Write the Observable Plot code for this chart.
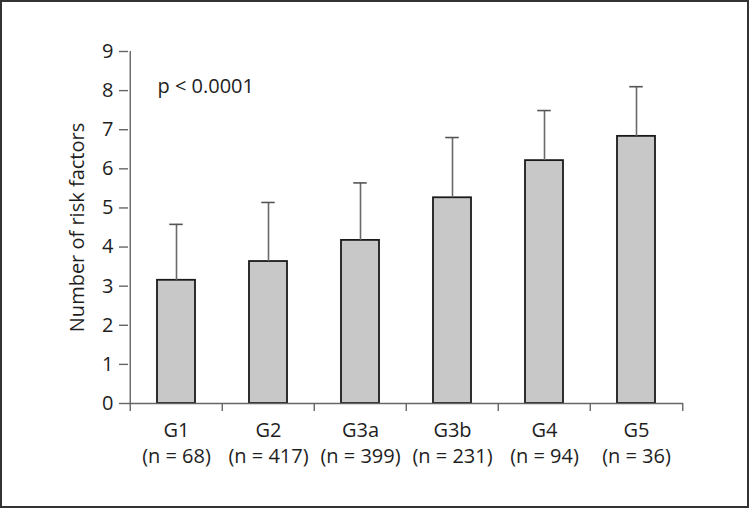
<!DOCTYPE html>
<html>
<head>
<meta charset="utf-8">
<script src="https://cdn.jsdelivr.net/npm/d3@7"></script>
<script src="https://cdn.jsdelivr.net/npm/@observablehq/plot@0.6"></script>
<style>
  html, body { margin: 0; padding: 0; background: #fff; }
  #wrap { position: relative; width: 750px; height: 508px; }
  #border { position: absolute; left: 0; top: 0; width: 749px; height: 508px; box-sizing: border-box; border: 2px solid #333; pointer-events: none; }
</style>
</head>
<body>
<div id="wrap"><div id="border"></div></div>
<script>
const groups = ["G1", "G2", "G3a", "G3b", "G4", "G5"];
const counts = ["(n = 68)", "(n = 417)", "(n = 399)", "(n = 231)", "(n = 94)", "(n = 36)"];
const means = [3.15, 3.63, 4.17, 5.26, 6.21, 6.83];
const upper = [4.58, 5.14, 5.64, 6.80, 7.49, 8.10];
const yTicks = [0, 1, 2, 3, 4, 5, 6, 7, 8, 9];
const pText = "p < 0.0001";
const yLabel = "Number of risk factors";

const data = groups.map((g, i) => ({group: g, n: counts[i], mean: means[i], upper: upper[i]}));

const W = 750, H = 508, mL = 128, mR = 67, mT = 51, mB = 105;
const bw = (W - mL - mR) / groups.length;
const axisColor = "#666";
const FS = 20;
const txt = "#1e1e1e";

const chart = Plot.plot({
  width: W, height: H,
  marginLeft: mL, marginRight: mR, marginTop: mT, marginBottom: mB,
  style: {fontFamily: "'Open Sans', sans-serif", fontSize: FS + "px", color: txt, background: "transparent"},
  x: {domain: groups, padding: 0, axis: null},
  y: {domain: [0, 9], axis: null},
  marks: [
    Plot.barY(data, {x: "group", y: "mean", fill: "#c8c8c8", stroke: "#1a1a1a", strokeWidth: 1.8, insetLeft: 27, insetRight: 27}),
    Plot.ruleX(data, {x: "group", y1: "mean", y2: "upper", stroke: "#6a6a6a", strokeWidth: 1.6}),
    Plot.tickY(data, {x: "group", y: "upper", stroke: "#555", strokeWidth: 1.6, insetLeft: (bw - 14) / 2, insetRight: (bw - 14) / 2}),
    // x axis line
    Plot.ruleY([0], {stroke: axisColor, strokeWidth: 1.4}),
    // y axis line
    Plot.ruleX([groups[0]], {x: d => d, y1: 0, y2: 9, dx: -bw / 2, stroke: axisColor, strokeWidth: 1.4}),
    // x boundary ticks
    Plot.ruleX(groups, {x: d => d, y1: 0, y2: 0, insetBottom: -8, dx: -bw / 2, stroke: axisColor, strokeWidth: 1.4}),
    Plot.ruleX([groups[groups.length - 1]], {x: d => d, y1: 0, y2: 0, insetBottom: -8, dx: bw / 2, stroke: axisColor, strokeWidth: 1.4}),
    // y axis ticks and labels
    Plot.axisY({ticks: yTicks, tickSize: 9, tickPadding: 6, stroke: axisColor, strokeWidth: 1.4, label: null, fill: txt, fontSize: FS}),
    // x labels
    Plot.text(data, {x: "group", text: "group", frameAnchor: "bottom", lineAnchor: "middle", dy: 27, fill: txt, fontSize: FS}),
    Plot.text(data, {x: "group", text: "n", frameAnchor: "bottom", lineAnchor: "middle", dy: 53, fill: txt, fontSize: FS}),
    // y label
    Plot.text([yLabel], {frameAnchor: "left", rotate: -90, textAnchor: "middle", lineAnchor: "middle", dx: -51, fill: txt, fontSize: FS}),
    // p-value
    Plot.text([pText], {frameAnchor: "top-left", textAnchor: "start", lineAnchor: "middle", dx: 29, dy: 35, fill: txt, fontSize: FS})
  ]
});
document.getElementById("wrap").prepend(chart);
chart.style.position = "absolute";
chart.style.left = "0";
chart.style.top = "0";
</script>
</body>
</html>
